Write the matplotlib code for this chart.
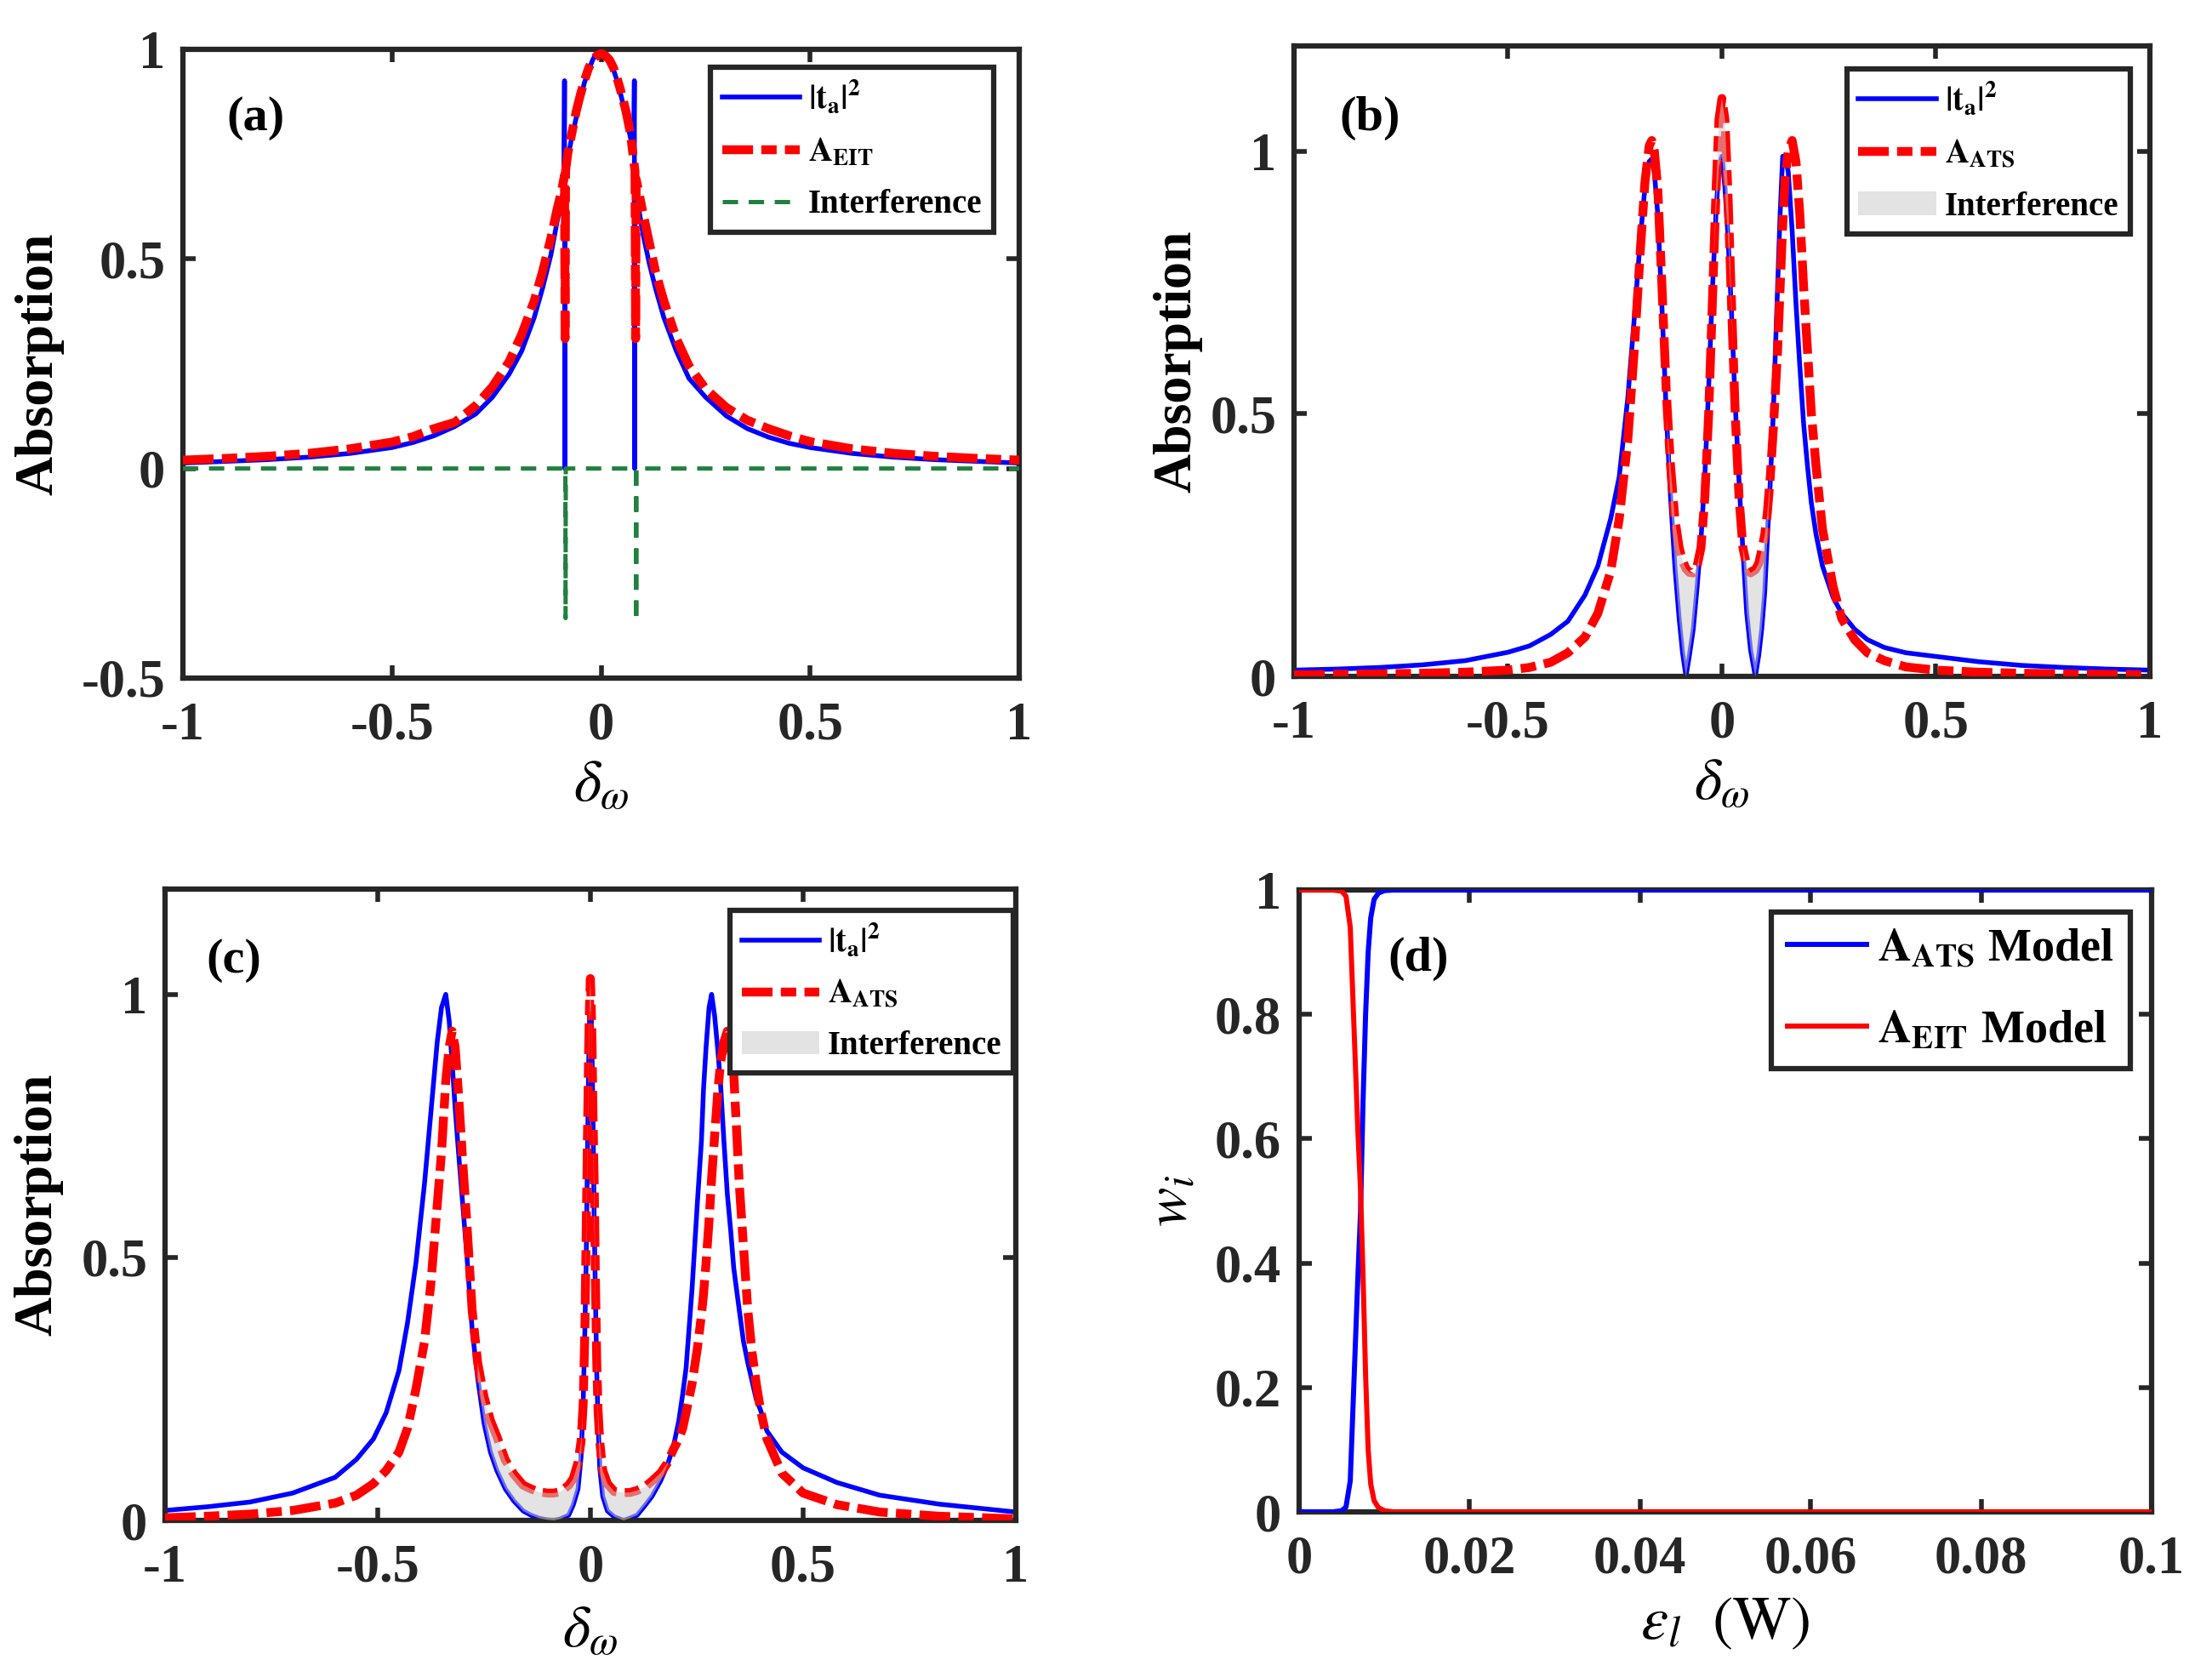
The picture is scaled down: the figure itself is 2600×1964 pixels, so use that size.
import matplotlib
matplotlib.use("Agg")
import matplotlib.pyplot as plt
import numpy as np

plt.rcParams["font.family"] = ["Liberation Serif", "DejaVu Serif"]
plt.rcParams["mathtext.fontset"] = "stix"
plt.rcParams["lines.scale_dashes"] = False

AXIS_COLOR = "#262626"
BLUE = "#0000ff"
RED = "#ff0000"
GREEN = "#21803f"

# ---------------- panel (a): EIT fit ----------------
a_x_blue = [-1.0, -0.9, -0.8, -0.7, -0.6, -0.5, -0.45, -0.4, -0.35, -0.3, -0.26, -0.22,
            -0.19, -0.16, -0.14, -0.12, -0.105, -0.095, -0.089, -0.0875, -0.0868, -0.086,
            -0.08, -0.07, -0.06, -0.05, -0.04, -0.03, -0.02, -0.01, 0.0, 0.01, 0.02, 0.03,
            0.04, 0.05, 0.06, 0.07, 0.078, 0.0795, 0.0802, 0.081, 0.09, 0.1, 0.115, 0.13,
            0.15, 0.18, 0.21, 0.25, 0.3, 0.35, 0.4, 0.45, 0.5, 0.6, 0.7, 0.8, 0.9, 1.0]
a_blue = [0.013, 0.017, 0.021, 0.027, 0.036, 0.05, 0.062, 0.078, 0.10, 0.13, 0.17, 0.225,
          0.28, 0.36, 0.43, 0.51, 0.59, 0.64, 0.665, 0.925, 0.0, 0.68,
          0.74, 0.79, 0.835, 0.88, 0.92, 0.95, 0.975, 0.993, 1.0, 0.993, 0.975, 0.95,
          0.92, 0.88, 0.835, 0.79, 0.755, 0.925, 0.0, 0.72, 0.62, 0.56, 0.49, 0.43,
          0.36, 0.28, 0.215, 0.17, 0.125, 0.095, 0.075, 0.06, 0.05, 0.036, 0.027, 0.021, 0.017, 0.013]

a_x_red = [-1.0, -0.9, -0.8, -0.7, -0.6, -0.5, -0.45, -0.4, -0.35, -0.3, -0.26, -0.22,
           -0.19, -0.16, -0.14, -0.12, -0.105, -0.095, -0.0875, -0.0862, -0.085,
           -0.08, -0.07, -0.06, -0.05, -0.04, -0.03, -0.02, -0.01, 0.0, 0.01, 0.02, 0.03,
           0.04, 0.05, 0.06, 0.07, 0.081, 0.0825, 0.0838, 0.09, 0.1, 0.115, 0.13,
           0.15, 0.18, 0.21, 0.25, 0.3, 0.35, 0.4, 0.45, 0.5, 0.6, 0.7, 0.8, 0.9, 1.0]
a_red = [0.02, 0.024, 0.029, 0.036, 0.047, 0.063, 0.076, 0.095, 0.11, 0.15, 0.195, 0.255,
         0.32, 0.40, 0.47, 0.55, 0.62, 0.66, 0.70, 0.31, 0.71,
         0.75, 0.80, 0.85, 0.89, 0.925, 0.955, 0.975, 0.985, 0.99, 0.985, 0.975, 0.955,
         0.925, 0.89, 0.85, 0.80, 0.71, 0.31, 0.69, 0.66, 0.61, 0.54, 0.47,
         0.40, 0.31, 0.245, 0.19, 0.145, 0.115, 0.095, 0.078, 0.064, 0.047, 0.036, 0.029, 0.024, 0.02]

a_x_green = [-1.0, -0.0855, -0.085, -0.0845, 0.0835, 0.084, 0.0845, 1.0]
a_green = [0.0, 0.0, -0.357, 0.0, 0.0, -0.364, 0.0, 0.0]

# ---------------- panel (b): ATS fit, medium coupling ----------------
b_x = [-1.0, -0.9, -0.8, -0.7, -0.6, -0.5, -0.45, -0.4, -0.36, -0.32, -0.29, -0.26, -0.24,
       -0.22, -0.205, -0.19, -0.18, -0.17, -0.164, -0.158, -0.15, -0.14, -0.13, -0.12,
       -0.11, -0.1, -0.092, -0.084, -0.076, -0.067, -0.058, -0.049, -0.04, -0.031, -0.022,
       -0.014, -0.007, 0.0, 0.007, 0.014, 0.022, 0.031, 0.04, 0.049, 0.058, 0.067, 0.078,
       0.086, 0.093, 0.1, 0.106, 0.113, 0.12, 0.13, 0.136, 0.142, 0.148, 0.155, 0.164,
       0.173, 0.182, 0.191, 0.2, 0.209, 0.22, 0.235, 0.26, 0.28, 0.31, 0.34, 0.38, 0.43,
       0.5, 0.6, 0.7, 0.8, 0.9, 1.0]
b_blue = [0.012, 0.014, 0.017, 0.022, 0.030, 0.046, 0.058, 0.08, 0.105, 0.155, 0.21, 0.30, 0.38,
          0.53, 0.68, 0.84, 0.93, 0.98, 0.985, 0.96, 0.88, 0.70, 0.50, 0.34,
          0.21, 0.11, 0.045, 0.0, 0.04, 0.09, 0.17, 0.26, 0.38, 0.55, 0.74,
          0.88, 0.97, 0.99, 0.93, 0.84, 0.70, 0.52, 0.37, 0.24, 0.12, 0.05, 0.0,
          0.04, 0.09, 0.16, 0.26, 0.37, 0.50, 0.74, 0.88, 0.99, 0.99, 0.96, 0.85,
          0.71, 0.59, 0.48, 0.40, 0.33, 0.27, 0.21, 0.15, 0.12, 0.09, 0.07, 0.055, 0.045,
          0.038, 0.028, 0.021, 0.017, 0.014, 0.012]
b_red = [0.003, 0.004, 0.005, 0.006, 0.008, 0.012, 0.017, 0.027, 0.045, 0.075, 0.12, 0.20, 0.30,
         0.45, 0.62, 0.82, 0.94, 1.01, 1.02, 1.0, 0.93, 0.74, 0.54, 0.40,
         0.30, 0.245, 0.22, 0.205, 0.198, 0.197, 0.21, 0.245, 0.34, 0.50, 0.72,
         0.92, 1.06, 1.10, 1.06, 0.92, 0.72, 0.50, 0.34, 0.245, 0.21, 0.197, 0.203,
         0.215, 0.24, 0.27, 0.31, 0.38, 0.47, 0.62, 0.74, 0.86, 0.95, 1.0, 1.02,
         0.98, 0.88, 0.74, 0.62, 0.50, 0.40, 0.28, 0.17, 0.11, 0.07, 0.045, 0.03, 0.018,
         0.012, 0.008, 0.006, 0.005, 0.004, 0.003]

# ---------------- panel (c): ATS fit, strong coupling ----------------
c_x = [-1.0, -0.9, -0.8, -0.7, -0.6, -0.55, -0.51, -0.48, -0.45, -0.43, -0.41, -0.39, -0.375,
       -0.36, -0.35, -0.34, -0.332, -0.325, -0.318, -0.31, -0.3, -0.29, -0.278, -0.265,
       -0.25, -0.235, -0.22, -0.2, -0.18, -0.158, -0.14, -0.12, -0.1, -0.086, -0.07,
       -0.051, -0.04, -0.029, -0.022, -0.017, -0.013, -0.0098, -0.0065, -0.004, -0.002,
       0.0, 0.002, 0.004, 0.006, 0.009, 0.012, 0.015, 0.018, 0.022, 0.029, 0.04, 0.056,
       0.078, 0.092, 0.11, 0.13, 0.145, 0.165, 0.181, 0.195, 0.208, 0.217, 0.225, 0.239,
       0.252, 0.261, 0.266, 0.272, 0.279, 0.285, 0.292, 0.3, 0.306, 0.314, 0.322, 0.33,
       0.337, 0.35, 0.36, 0.37, 0.38, 0.39, 0.4, 0.415, 0.45, 0.5, 0.58, 0.68, 0.82, 1.0]
c_blue = [0.019, 0.026, 0.035, 0.052, 0.082, 0.116, 0.155, 0.205, 0.285, 0.375, 0.49, 0.64, 0.775,
          0.91, 0.975, 1.0, 0.95, 0.87, 0.785, 0.70, 0.60, 0.50, 0.363, 0.271,
          0.185, 0.13, 0.095, 0.06, 0.037, 0.018, 0.01, 0.004, 0.001, 0.0, 0.003,
          0.01, 0.03, 0.06, 0.12, 0.22, 0.36, 0.50, 0.72, 0.87, 0.95,
          0.98, 0.96, 0.88, 0.78, 0.57, 0.42, 0.28, 0.187, 0.10, 0.046, 0.018, 0.007,
          0.0, 0.004, 0.01, 0.03, 0.046, 0.075, 0.105, 0.14, 0.19, 0.24, 0.29, 0.44,
          0.61, 0.72, 0.82, 0.90, 0.975, 1.0, 0.96, 0.89, 0.83, 0.72, 0.62, 0.55,
          0.48, 0.40, 0.34, 0.30, 0.265, 0.23, 0.21, 0.17, 0.13, 0.10, 0.072, 0.048, 0.031, 0.016]
c_red = [0.005, 0.008, 0.012, 0.019, 0.033, 0.048, 0.07, 0.095, 0.13, 0.175, 0.25, 0.34, 0.45,
         0.60, 0.70, 0.835, 0.90, 0.93, 0.90, 0.81, 0.68, 0.56, 0.40, 0.30,
         0.235, 0.19, 0.16, 0.115, 0.088, 0.067, 0.06, 0.054, 0.052, 0.052, 0.055,
         0.067, 0.08, 0.11, 0.15, 0.22, 0.36, 0.55, 0.75, 0.90, 0.98,
         1.03, 0.98, 0.90, 0.78, 0.64, 0.45, 0.30, 0.21, 0.15, 0.095, 0.07, 0.055,
         0.053, 0.053, 0.057, 0.065, 0.075, 0.09, 0.109, 0.135, 0.155, 0.175, 0.205, 0.26,
         0.33, 0.39, 0.43, 0.49, 0.57, 0.65, 0.73, 0.82, 0.87, 0.91, 0.93, 0.90,
         0.85, 0.64, 0.52, 0.40, 0.32, 0.26, 0.21, 0.155, 0.09, 0.052, 0.03, 0.016, 0.008, 0.003]

# ---------------- panel (d): model weights ----------------
d_x = [0.0, 0.002, 0.004, 0.005, 0.0055, 0.006, 0.0063, 0.0066, 0.0069, 0.0072, 0.0075,
       0.0078, 0.0081, 0.0084, 0.0088, 0.0093, 0.01, 0.011, 0.012, 0.015, 0.02, 0.04,
       0.06, 0.08, 0.1]
d_ats = [0.0, 0.0, 0.0, 0.002, 0.008, 0.05, 0.16, 0.27, 0.38, 0.48, 0.66,
         0.80, 0.90, 0.955, 0.985, 0.995, 0.999, 1.0, 1.0, 1.0, 1.0, 1.0,
         1.0, 1.0, 1.0]
d_eit = [1.0, 1.0, 1.0, 0.998, 0.99, 0.94, 0.83, 0.72, 0.61, 0.52, 0.38,
         0.22, 0.10, 0.045, 0.018, 0.007, 0.002, 0.0, 0.0, 0.0, 0.0, 0.0,
         0.0, 0.0, 0.0]

det_ticks = [-1, -0.5, 0, 0.5, 1]
det_labels = ["-1", "-0.5", "0", "0.5", "1"]
a_yticks = [-0.5, 0, 0.5, 1]
a_ylabels = ["-0.5", "0", "0.5", "1"]
bc_yticks = [0, 0.5, 1]
bc_ylabels = ["0", "0.5", "1"]
d_xticks = [0, 0.02, 0.04, 0.06, 0.08, 0.1]
d_xlabels = ["0", "0.02", "0.04", "0.06", "0.08", "0.1"]
d_yticks = [0, 0.2, 0.4, 0.6, 0.8, 1]
d_ylabels = ["0", "0.2", "0.4", "0.6", "0.8", "1"]

FILL_SPAN_B = 0.125
FILL_SPAN_C = 0.27

RED_DASH = (0, (26, 7, 13, 7))
GREEN_DASH = (0, (13, 9))


def style_axes(ax, xticks, xlabels, yticks, ylabels):
    for spine in ax.spines.values():
        spine.set_linewidth(4.5)
        spine.set_color(AXIS_COLOR)
    ax.set_xticks(xticks, xlabels, fontweight="bold")
    ax.set_yticks(yticks, ylabels, fontweight="bold")
    ax.tick_params(direction="in", top=True, right=True, length=11, width=4,
                   color=AXIS_COLOR, labelcolor=AXIS_COLOR, labelsize=45)
    ax.tick_params(axis="x", pad=20)
    ax.tick_params(axis="y", pad=15)


def boxed_legend(ax, anchor, fontsize, handlelength, spacing):
    leg = ax.legend(loc="upper right", bbox_to_anchor=anchor, borderaxespad=0,
                    fancybox=False, framealpha=1, prop={"weight": "bold", "size": fontsize},
                    handlelength=handlelength, handletextpad=0.25, borderpad=0.35,
                    labelspacing=spacing)
    leg.get_frame().set_linewidth(4.5)
    leg.get_frame().set_edgecolor(AXIS_COLOR)
    return leg


def interference_fill(ax, x, blue, red, span):
    x = np.asarray(x)
    blue = np.asarray(blue)
    red = np.asarray(red)
    mask = (red > blue) & (np.abs(x) < span)
    ax.fill_between(x, blue, red, where=mask, interpolate=True, color="0.8",
                    alpha=0.55, linewidth=0, zorder=4, label="Interference")


fig = plt.figure(figsize=(26, 19.64), dpi=100)
ax_a = fig.add_axes([0.0827, 0.5942, 0.3781, 0.3763])
ax_b = fig.add_axes([0.5850, 0.5952, 0.3869, 0.3773])
ax_c = fig.add_axes([0.0746, 0.0901, 0.3846, 0.3778])
ax_d = fig.add_axes([0.5873, 0.0952, 0.3854, 0.3722])

# (a)
ax_a.plot(a_x_blue, a_blue, color=BLUE, lw=4, label=r"$\mathbf{|t_a|^2}$", zorder=2)
ax_a.plot(a_x_red, a_red, color=RED, lw=7.5, linestyle=RED_DASH, label=r"$\mathbf{A_{EIT}}$", zorder=3)
ax_a.plot(a_x_green, a_green, color=GREEN, lw=3.6, linestyle=GREEN_DASH, label="Interference", zorder=3)
ax_a.set_xlim(-1, 1)
ax_a.set_ylim(-0.5, 1)
style_axes(ax_a, det_ticks, det_labels, a_yticks, a_ylabels)
boxed_legend(ax_a, (0.9695, 0.9716), 28, 2.35, 0.62)

# (b)
ax_b.plot(b_x, b_blue, color=BLUE, lw=4, label=r"$\mathbf{|t_a|^2}$", zorder=2)
ax_b.plot(b_x, b_red, color=RED, lw=7.5, linestyle=RED_DASH, label=r"$\mathbf{A_{ATS}}$", zorder=3)
interference_fill(ax_b, b_x, b_blue, b_red, FILL_SPAN_B)
ax_b.set_xlim(-1, 1)
ax_b.set_ylim(0, 1.2)
style_axes(ax_b, det_ticks, det_labels, bc_yticks, bc_ylabels)
boxed_legend(ax_b, (0.977, 0.9636), 28, 2.35, 0.62)

# (c)
ax_c.plot(c_x, c_blue, color=BLUE, lw=4, label=r"$\mathbf{|t_a|^2}$", zorder=2)
ax_c.plot(c_x, c_red, color=RED, lw=7.5, linestyle=RED_DASH, label=r"$\mathbf{A_{ATS}}$", zorder=3)
interference_fill(ax_c, c_x, c_blue, c_red, FILL_SPAN_C)
ax_c.set_xlim(-1, 1)
ax_c.set_ylim(0, 1.2)
style_axes(ax_c, det_ticks, det_labels, bc_yticks, bc_ylabels)
boxed_legend(ax_c, (0.997, 0.966), 28, 2.35, 0.58)

# (d)
ax_d.plot(d_x, d_ats, color=BLUE, lw=4.3, label=r"$\mathbf{A_{ATS}}$ Model", zorder=3)
ax_d.plot(d_x, d_eit, color=RED, lw=4.3, label=r"$\mathbf{A_{EIT}}$ Model", zorder=3)
ax_d.set_xlim(0, 0.1)
ax_d.set_ylim(0, 1)
style_axes(ax_d, d_xticks, d_xlabels, d_yticks, d_ylabels)
boxed_legend(ax_d, (0.975, 0.965), 39, 1.7, 0.85)

for ax in (ax_a, ax_b, ax_c):
    ax.set_ylabel("Absorption", fontsize=46, fontweight="bold")
    ax.set_xlabel(r"$\delta_\omega$", fontsize=50)
ax_d.set_ylabel(r"$w_i$", fontsize=50)
ax_d.set_xlabel(r"$\varepsilon_l\ \ (\mathrm{W})$", fontsize=52)

ax_a.yaxis.set_label_coords(-0.142, 0.5)
ax_b.yaxis.set_label_coords(-0.107, 0.5)
ax_c.yaxis.set_label_coords(-0.120, 0.5)
ax_d.yaxis.set_label_coords(-0.118, 0.5)
ax_a.xaxis.set_label_coords(0.5, -0.130)
ax_b.xaxis.set_label_coords(0.5, -0.130)
ax_c.xaxis.set_label_coords(0.5, -0.135)
ax_d.xaxis.set_label_coords(0.5, -0.135)

panel_pos = [(ax_a, "(a)", 0.0865, 0.890), (ax_b, "(b)", 0.0885, 0.885),
             (ax_c, "(c)", 0.081, 0.887), (ax_d, "(d)", 0.14, 0.89)]
for ax, tag, px, py in panel_pos:
    ax.text(px, py, tag, transform=ax.transAxes, fontsize=42, fontweight="bold",
            ha="center", va="center", color="black", zorder=6)

fig.savefig("out.png", dpi=100, facecolor="white")
